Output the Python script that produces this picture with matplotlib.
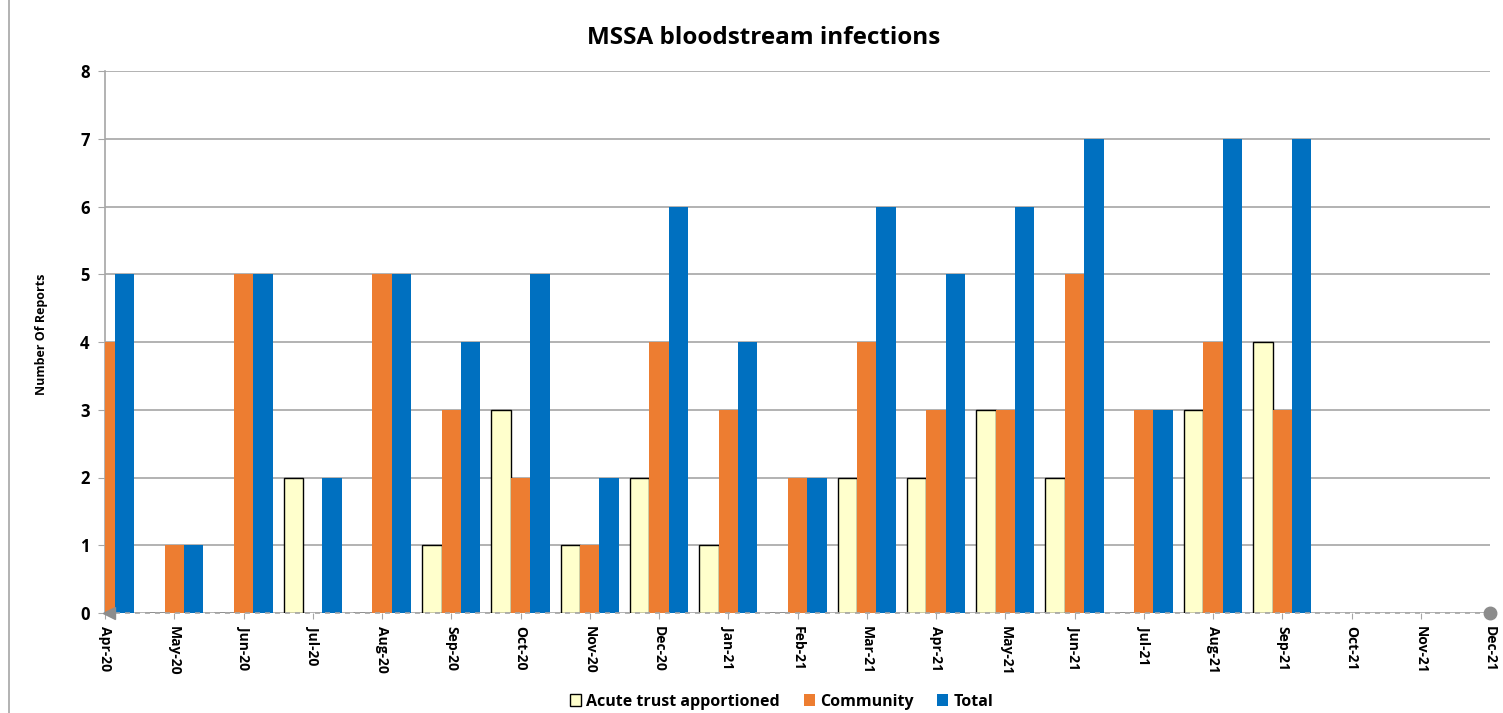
import numpy as np
import matplotlib
matplotlib.use("Agg")
import matplotlib.pyplot as plt

plt.rcParams['font.family'] = ['Open Sans', 'DejaVu Sans']

months = ['Apr-20', 'May-20', 'Jun-20', 'Jul-20', 'Aug-20', 'Sep-20', 'Oct-20',
          'Nov-20', 'Dec-20', 'Jan-21', 'Feb-21', 'Mar-21', 'Apr-21', 'May-21',
          'Jun-21', 'Jul-21', 'Aug-21', 'Sep-21', 'Oct-21', 'Nov-21', 'Dec-21']
acute = [0, 0, 0, 2, 0, 1, 3, 1, 2, 1, 0, 2, 2, 3, 2, 0, 3, 4]
community = [4, 1, 5, 0, 5, 3, 2, 1, 4, 3, 2, 4, 3, 3, 5, 3, 4, 3]
total = [5, 1, 5, 2, 5, 4, 5, 2, 6, 4, 2, 6, 5, 6, 7, 3, 7, 7]

fig = plt.figure(figsize=(15.03, 7.13), dpi=100)
ax = fig.add_axes([105 / 1503, 1 - 613 / 713, (1490 - 105) / 1503, (613 - 71) / 713])

x = np.arange(len(acute))
w = 0.28
ax.bar(x - w, acute, w, color='#FFFFCC', edgecolor='black', linewidth=1.0,
       label='Acute trust apportioned', zorder=3)
ax.bar(x, community, w, color='#ED7D31', label='Community', zorder=3)
ax.bar(x + w, total, w, color='#0070C0', label='Total', zorder=3)

ax.set_xlim(0, len(months) - 1)
ax.set_ylim(0, 8)
ax.set_yticks(range(9))
ax.yaxis.grid(True, color='#A6A6A6', linewidth=1.2, zorder=0)
ax.set_axisbelow(True)
ax.tick_params(axis='y', length=5, color='#A6A6A6', labelsize=12, pad=6)
for t in ax.get_yticklabels():
    t.set_fontweight('bold')

ax.set_xticks(range(len(months)))
ax.set_xticklabels(months, rotation=270, fontsize=10, fontweight='bold')
ax.tick_params(axis='x', length=4, color='#A6A6A6', pad=5)

for s in ['top', 'right', 'bottom']:
    ax.spines[s].set_visible(False)
ax.spines['left'].set_color('#A6A6A6')
ax.spines['left'].set_linewidth(1.2)

# dashed baseline with arrow and end cap
ax.plot([0, len(months) - 1], [0, 0], linestyle=(0, (3, 3)), color='#A6A6A6',
        linewidth=1.2, clip_on=False, zorder=4)
ax.plot([0.06], [0], marker='<', color='#8C8C8C', markersize=8, clip_on=False, zorder=5)
ax.plot([len(months) - 1], [0], marker='o', color='#8C8C8C', markersize=9,
        clip_on=False, zorder=5)

ax.set_ylabel('Number Of Reports', fontsize=9, fontweight='bold')
ax.yaxis.set_label_coords(-0.041, 0.515)
fig.text(0.508, 0.947, 'MSSA bloodstream infections', ha='center', va='center',
         fontsize=17.5, fontweight='bold')

leg = fig.legend(loc='center', bbox_to_anchor=(0.52, 0.016), ncol=3, frameon=False,
                 fontsize=11.5, handlelength=0.7, handleheight=0.7, columnspacing=1.5,
                 handletextpad=0.3)
for t in leg.get_texts():
    t.set_fontweight('bold')

# chart border (left edge visible in original)
fig.add_artist(plt.Line2D([9 / 1503, 9 / 1503], [0, 1], color='#A6A6A6', linewidth=1.2))

fig.savefig('out.png', dpi=100)
